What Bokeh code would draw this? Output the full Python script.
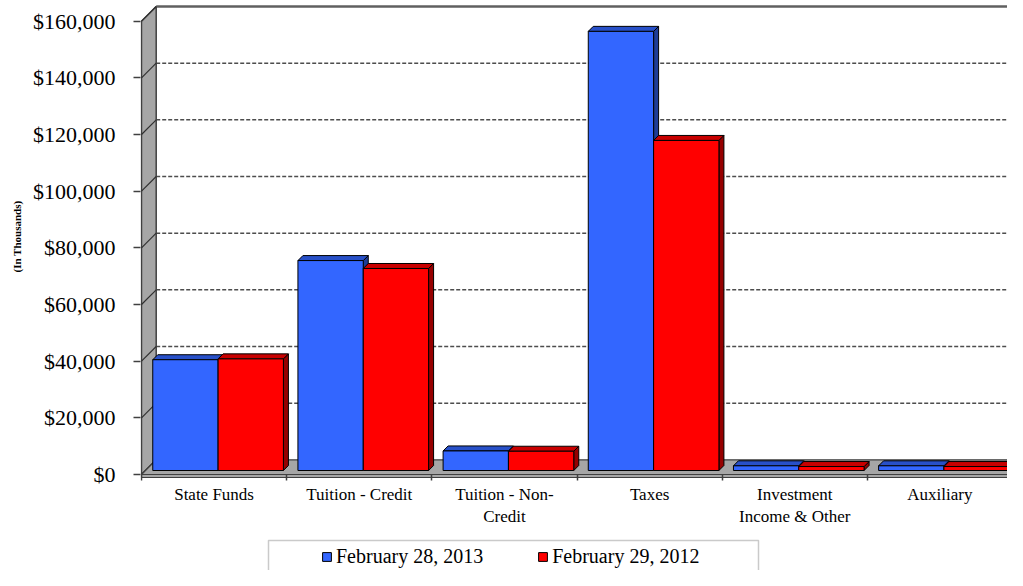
import numpy as np
from bokeh.plotting import figure
from bokeh.models import (Range1d, FixedTicker, NumeralTickFormatter, Legend,
                          LegendItem, BoxAnnotation, Title)
from bokeh.embed import file_html
from bokeh.resources import INLINE

# ---------------- data ----------------
categories = ["State Funds", "Tuition - Credit", "Tuition - Non-\nCredit",
              "Taxes", "Investment\nIncome & Other", "Auxiliary"]
feb_2013 = [39100, 74100, 6900, 155000, 1650, 1650]
feb_2012 = [39400, 71300, 6800, 116500, 1400, 1400]
series_names = ["February 28, 2013", "February 29, 2012"]
y_ticks = [0, 20000, 40000, 60000, 80000, 100000, 120000, 140000, 160000]
y_title = "(In Thousands)"

# ---------------- geometry (pixels -> data) ----------------
PXC = 145.17                 # pixels per category
UPP = 160000 / 453.3         # data units per vertical pixel
LEFT = 140                   # canvas x of frame left
W, H = 1007, 570             # canvas size
FW, FH = W - LEFT, H         # frame size
ZERO = 474                   # canvas y of value 0
x0 = -1 / PXC
x1 = x0 + FW / PXC
y0 = -(FH - ZERO) * UPP
y1 = ZERO * UPP


def dx(px):
    return px / PXC


def dy(px):
    return px * UPP


def cx(canvas_x):
    return x0 + (canvas_x - LEFT) / PXC


def cy(canvas_y):
    return (ZERO - canvas_y) * UPP


WX, WY = dx(14.7), dy(14.7)     # wall depth
FRX, FRY = dx(4), dy(4)         # bar front offset inside the depth
BDX, BDY = dx(5), dy(5)         # bar depth
BW = 0.45
n = len(categories)
idx = np.arange(n)

WALL_GRAY = "#a6a6a6"
EDGE = "#404040"
FONT = "Liberation Serif"

p = figure(frame_width=FW, frame_height=FH, x_range=Range1d(x0, x1),
           y_range=Range1d(y0, y1), output_backend="svg",
           toolbar_location=None, min_border_left=LEFT, min_border_right=0,
           min_border_top=0, min_border_bottom=0)
p.outline_line_color = None
p.xgrid.visible = False
p.ygrid.visible = False
p.background_fill_color = "white"
p.border_fill_color = "white"

# ---------------- back wall ----------------
grid_vals = y_ticks[1:-1]
p.multi_line(xs=[[WX, x1] for _ in grid_vals],
             ys=[[v + WY, v + WY] for v in grid_vals],
             line_color="#4d4d4d", line_width=1.5, line_dash="4 2")
p.line([WX, x1], [y_ticks[-1] + WY] * 2, line_color="#606060", line_width=2.5)

# ---------------- left wall ----------------
top = y_ticks[-1]
p.patch([0, WX, WX, 0], [0, WY, top + WY, top], fill_color=WALL_GRAY,
        line_color=EDGE, line_width=1.5)
p.multi_line(xs=[[0, WX] for _ in y_ticks], ys=[[v, v + WY] for v in y_ticks],
             line_color="#303030", line_width=1.2)

# ---------------- floor ----------------
th = dy(3)
p.patch([0, n, n + WX, WX], [0, 0, WY, WY], fill_color=WALL_GRAY,
        line_color=EDGE, line_width=1.2)
p.patch([0, n, n, 0], [0, 0, -th, -th], fill_color=WALL_GRAY,
        line_color=EDGE, line_width=1.2)
p.patch([n, n + WX, n + WX, n], [0, WY, WY - th, -th], fill_color=WALL_GRAY,
        line_color=EDGE, line_width=1.2)

# ---------------- bars ----------------


def draw_bars(vals, left_frac, front, topc, side):
    xl = idx + left_frac + FRX
    xr = xl + BW
    base = FRY
    tp = np.array(vals, dtype=float) + FRY
    side_xs = [[b, b + BDX, b + BDX, b] for b in xr]
    side_ys = [[base, base + BDY, t + BDY, t] for t in tp]
    top_xs = [[a, b, b + BDX, a + BDX] for a, b in zip(xl, xr)]
    top_ys = [[t, t, t + BDY, t + BDY] for t in tp]
    p.patches(side_xs, side_ys, fill_color=side, line_color="black", line_width=1)
    p.patches(top_xs, top_ys, fill_color=topc, line_color="black", line_width=1)
    return p.quad(left=xl, right=xr, bottom=base, top=tp, fill_color=front,
                  line_color="black", line_width=1)


r_blue = draw_bars(feb_2013, 0.05, "#3366ff", "#2850c8", "#1e3c96")
r_red = draw_bars(feb_2012, 0.50, "#ff0000", "#c80000", "#960000")

# ---------------- axes ----------------
yax = p.yaxis[0]
yax.ticker = FixedTicker(ticks=y_ticks)
yax.formatter = NumeralTickFormatter(format="$0,0")
yax.axis_line_color = None
yax.major_tick_line_color = EDGE
yax.major_tick_line_width = 1.5
yax.major_tick_in = 0
yax.major_tick_out = 7
yax.minor_tick_line_color = None
yax.major_label_standoff = 18
yax.major_label_text_font = FONT
yax.major_label_text_font_size = "22px"
yax.major_label_text_color = "black"

p.add_layout(Title(text=y_title, align="left", offset=298, standoff=14,
                   text_font=FONT, text_font_style="bold",
                   text_font_size="11px", text_color="black"), "left")

xax = p.xaxis[0]
xax.fixed_location = cy(478)
centers = [i + 0.5 for i in range(n)]
xax.ticker = FixedTicker(ticks=centers, minor_ticks=list(range(n + 1)))
xax.major_label_overrides = {c: lab for c, lab in zip(centers, categories)}
xax.axis_line_color = None
xax.major_tick_line_color = None
xax.minor_tick_line_color = EDGE
xax.minor_tick_line_width = 1.5
xax.minor_tick_in = 4
xax.minor_tick_out = 2
xax.major_label_standoff = 0
xax.major_label_text_font = FONT
xax.major_label_text_font_size = "17px"
xax.major_label_text_color = "black"

# ---------------- legend ----------------
box = BoxAnnotation(left=cx(268), right=cx(758), top=cy(540), bottom=cy(600),
                    fill_color=None, line_color="#505050", line_width=1.5)
p.add_layout(box)
legend = Legend(items=[LegendItem(label=series_names[0], renderers=[r_blue]),
                       LegendItem(label=series_names[1], renderers=[r_red])],
                orientation="horizontal", location=(181, 2),
                glyph_width=11, glyph_height=11, label_standoff=4, spacing=54,
                label_height=24, padding=0, margin=0, border_line_color=None,
                background_fill_alpha=0, label_text_font=FONT,
                label_text_font_size="20px", label_text_color="black")
p.add_layout(legend)

open("out.html", "w").write(file_html(p, INLINE))
